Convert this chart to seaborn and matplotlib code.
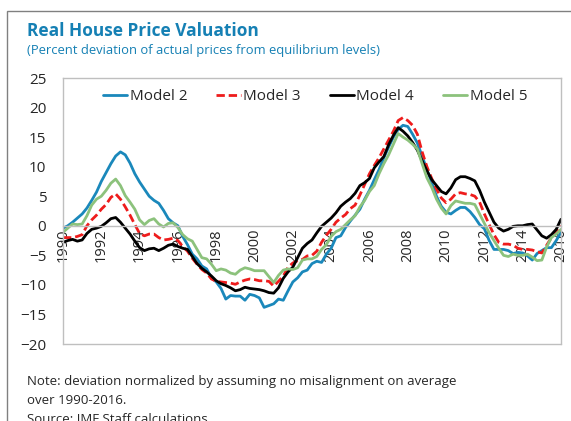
import numpy as np
import pandas as pd
import matplotlib
matplotlib.use('Agg')
import matplotlib.pyplot as plt
from matplotlib.patches import Rectangle
import seaborn as sns

# quarterly readings, 1990Q1 .. 2016Q1
years = np.arange(1990, 2016.01, 0.25)

model_2 = [-0.4, 0.0, 0.6, 1.3, 2.0, 3.0, 4.3, 5.7, 7.5, 9.0, 10.5, 11.8, 12.5, 12.0, 10.6, 8.8,
           7.4, 6.2, 5.0, 4.3, 3.8, 2.6, 1.2, 0.5, 0.0, -1.8, -3.2, -4.8, -5.6, -6.8, -7.3, -8.8,
           -9.5, -10.6, -12.4, -11.8, -11.9, -11.9, -12.6, -11.6, -11.8, -12.2, -13.8, -13.5,
           -13.2, -12.4, -12.6, -11.0, -9.5, -8.8, -7.8, -7.5, -6.4, -6.0, -6.2, -4.8, -3.8, -2.0,
           -1.7, -0.3, 0.8, 1.8, 2.8, 4.5, 6.0, 7.8, 9.5, 11.5, 13.3, 15.0, 16.3, 17.0, 16.8, 15.5,
           14.0, 11.8, 9.5, 7.3, 5.0, 3.3, 2.3, 2.0, 2.6, 3.1, 3.1, 2.4, 1.4, 0.2, -0.5, -2.5,
           -4.0, -4.0, -4.0, -4.2, -4.7, -4.5, -4.6, -5.1, -5.8, -4.7, -4.2, -3.7, -3.7, -2.5, -1.1]

model_3 = [-2.0, -2.0, -2.0, -1.8, -1.5, 0.0, 1.0, 1.8, 2.8, 3.6, 4.8, 5.4, 4.5, 3.2, 1.8, 0.2,
           -1.3, -1.7, -1.4, -1.4, -2.0, -2.4, -2.3, -2.1, -2.5, -3.5, -4.3, -5.5, -6.5, -7.4, -8.0,
           -9.0, -9.4, -9.5, -9.6, -9.7, -9.9, -9.5, -9.2, -9.0, -9.1, -9.3, -9.3, -9.4, -10.2,
           -9.4, -8.5, -7.0, -6.3, -5.9, -5.7, -5.1, -5.0, -4.3, -2.8, -1.6, -0.6, 0.6, 1.3, 1.9,
           2.9, 3.5, 5.2, 7.0, 8.8, 10.2, 11.5, 13.0, 14.5, 16.0, 17.8, 18.3, 17.8, 17.0, 15.5,
           12.5, 10.0, 8.0, 6.2, 4.7, 3.9, 4.5, 5.4, 5.6, 5.4, 5.3, 5.0, 4.0, 2.0, 0.2, -1.5, -2.8,
           -3.1, -3.1, -3.3, -3.8, -4.0, -4.0, -4.1, -4.4, -4.6, -3.3, -2.0, -1.1, 0.0]

model_4 = [-2.8, -2.5, -2.3, -2.6, -2.4, -1.3, -0.6, -0.4, -0.1, 0.5, 1.2, 1.4, 0.6, -0.4, -1.4,
           -2.6, -3.7, -4.2, -3.9, -3.8, -4.2, -3.8, -3.3, -3.1, -3.5, -3.8, -4.0, -5.2, -6.4, -7.2,
           -7.8, -8.5, -9.3, -9.8, -10.1, -10.5, -11.0, -10.8, -10.4, -10.6, -10.7, -10.8, -11.0,
           -11.3, -11.4, -10.5, -8.9, -7.8, -7.0, -5.4, -3.8, -3.0, -2.4, -1.2, -0.1, 0.6, 1.3, 2.2,
           3.3, 4.0, 4.6, 5.5, 6.8, 7.3, 8.0, 9.8, 10.8, 11.7, 13.7, 15.3, 16.6, 16.0, 15.2, 14.1,
           12.8, 11.0, 9.3, 7.8, 6.8, 5.8, 5.4, 6.4, 7.8, 8.3, 8.3, 8.0, 7.6, 6.0, 4.0, 2.3, 0.6,
           -0.4, -0.9, -0.6, -0.1, 0.0, 0.0, 0.2, 0.3, -0.7, -1.7, -2.1, -1.5, -0.6, 1.1]

model_5 = [-1.1, -0.4, 0.3, 0.2, 0.3, 1.7, 3.5, 4.5, 5.0, 6.0, 7.2, 7.9, 6.8, 5.1, 4.0, 2.8,
           1.0, 0.2, 0.9, 1.2, 0.3, -0.2, 0.4, 0.5, -0.3, -1.5, -2.2, -2.6, -4.0, -5.4, -5.6, -6.5,
           -7.6, -7.3, -7.5, -8.0, -8.2, -7.5, -7.1, -7.3, -7.6, -7.6, -7.6, -8.6, -9.6, -8.4, -7.5,
           -7.3, -7.4, -7.1, -5.8, -5.6, -5.6, -5.2, -4.0, -3.2, -1.8, -1.0, -0.6, 0.2, 1.0, 1.7,
           3.2, 4.3, 5.8, 6.8, 8.8, 10.5, 12.0, 13.8, 15.6, 15.0, 14.5, 13.8, 13.0, 10.5, 8.1, 6.5,
           4.5, 3.0, 2.0, 3.4, 4.2, 4.0, 3.8, 3.8, 3.6, 2.0, 0.4, -1.2, -2.5, -3.8, -5.0, -5.2,
           -4.8, -5.0, -5.0, -4.8, -5.3, -5.9, -5.8, -3.6, -2.0, -1.4, -0.6]

models = ['Model 2', 'Model 3', 'Model 4', 'Model 5']
colors = {'Model 2': '#1a88bb', 'Model 3': '#ee1c1c', 'Model 4': '#000000', 'Model 5': '#8cc27c'}
dashes = {'Model 2': '', 'Model 3': (3, 1.4), 'Model 4': '', 'Model 5': ''}

df = pd.DataFrame({'year': years, 'Model 2': model_2, 'Model 3': model_3,
                   'Model 4': model_4, 'Model 5': model_5})
long = df.melt(id_vars='year', var_name='model', value_name='value')

sns.set_style('white')
plt.rcParams['font.family'] = ['Open Sans', 'DejaVu Sans']

fig = plt.figure(figsize=(5.71, 4.21), dpi=100)
ax = fig.add_axes([63 / 571, 1 - 344 / 421, (561 - 63) / 571, (344 - 78) / 421])

sns.lineplot(data=long, x='year', y='value', hue='model', style='model',
             hue_order=models, style_order=models, palette=colors, dashes=dashes,
             linewidth=2, ax=ax)

ax.set_xlim(1990, 2016)
ax.set_ylim(-20, 25)
ax.set_yticks(range(-20, 30, 5))
ax.set_xticks(range(1990, 2017, 2))
ax.set_xticks(range(1991, 2016, 2), minor=True)
ax.set_xlabel('')
ax.set_ylabel('')

# plot-area border, x axis sits on zero
grey = '#bfbfbf'
for s in ['top', 'left', 'right']:
    ax.spines[s].set_color(grey)
    ax.spines[s].set_linewidth(1)
ax.spines['bottom'].set_position(('data', 0))
ax.spines['bottom'].set_color(grey)
ax.spines['bottom'].set_linewidth(1)
ax.plot([0, 1], [0, 0], transform=ax.transAxes, color=grey, lw=1, clip_on=False)

ax.tick_params(axis='y', length=0, pad=12, labelsize=11)
ax.tick_params(axis='x', which='both', direction='in', length=4, color=grey,
               labelrotation=90, pad=2, labelsize=10.5)

handles, labels = ax.get_legend_handles_labels()
ax.legend(handles, labels, ncol=4, loc='upper center', bbox_to_anchor=(0.506, 1.01),
          frameon=False, fontsize=11, handlelength=1.6, handletextpad=0.15,
          columnspacing=1.9)

# outer frame
fig.patches.append(Rectangle((7 / 571, -0.5), 2, 0.5 + 1 - 10.5 / 421, transform=fig.transFigure,
                             fill=False, edgecolor='#808080', lw=1))

title_blue = '#1580b4'
fig.text(27 / 571, 1 - 36 / 421, 'Real House Price Valuation', fontsize=12.5,
         fontweight='bold', color=title_blue, va='baseline')
fig.text(27 / 571, 1 - 54 / 421, '(Percent deviation of actual prices from equilibrium levels)',
         fontsize=9.4, color=title_blue, va='baseline')

note = ['Note: deviation normalized by assuming no misalignment on average',
        'over 1990-2016.',
        'Source: IMF Staff calculations.']
for i, line in enumerate(note):
    fig.text(27 / 571, 1 - (385 + 19 * i) / 421, line, fontsize=9.5, va='baseline')

fig.savefig('out.png', dpi=100)
